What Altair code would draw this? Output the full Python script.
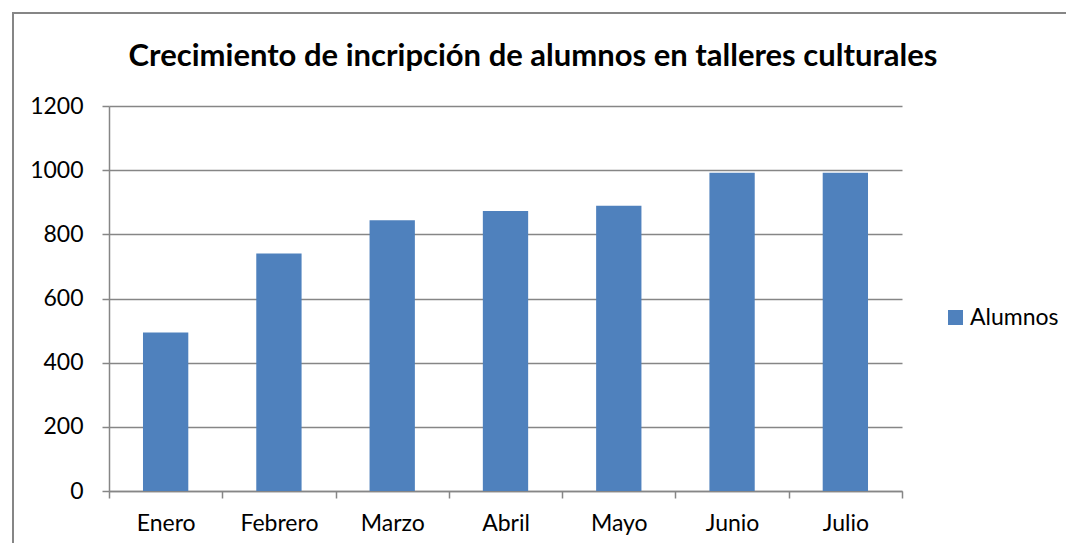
import altair as alt
import pandas as pd

months = ["Enero", "Febrero", "Marzo", "Abril", "Mayo", "Junio", "Julio"]
alumnos = [494, 740, 844, 873, 889, 992, 992]
series_name = "Alumnos"
title_text = "Crecimiento de incripción  de alumnos en talleres culturales"
y_ticks = [0, 200, 400, 600, 800, 1000, 1200]

df = pd.DataFrame({"Mes": months, "Valor": alumnos, "Serie": [series_name] * len(months)})

FONT = "Lato"
GRAY = "#868686"
BLUE = "#4F81BD"
LBL = 23

W, H = 793, 385

bars = alt.Chart(df).mark_bar(width={"band": 0.4}, color=BLUE).encode(
    x=alt.X("Mes:N", sort=months, title=None,
            scale=alt.Scale(paddingInner=0, paddingOuter=0),
            axis=alt.Axis(tickBand="extent", labelAngle=0, grid=False,
                          domainColor=GRAY, domainWidth=1.5, tickColor=GRAY, tickWidth=1.5,
                          tickSize=7, labelPadding=14, labelFont=FONT, labelFontSize=LBL,
                          labelColor="#000000")),
    y=alt.Y("Valor:Q", title=None,
            scale=alt.Scale(domain=[0, 1200], nice=False),
            axis=alt.Axis(values=y_ticks, format="d", grid=True, gridColor=GRAY, gridWidth=1.5,
                          domainColor=GRAY, domainWidth=1.5, tickColor=GRAY, tickWidth=1.5,
                          tickSize=7, labelPadding=19, labelFont=FONT, labelFontSize=LBL,
                          labelColor="#000000")),
    color=alt.Color("Serie:N", scale=alt.Scale(range=[BLUE]),
                    legend=alt.Legend(title=None, orient="none", legendX=835, legendY=200,
                                      symbolType="square", symbolSize=225,
                                      symbolStrokeWidth=0, labelFont=FONT,
                                      labelFontSize=LBL, labelColor="#000000",
                                      padding=0, labelOffset=3)),
)

one = pd.DataFrame({"k": [0]})

border = alt.Chart(one).mark_rect(filled=False, stroke=GRAY, strokeWidth=2, clip=False).encode(
    x=alt.value(-96), x2=alt.value(1100), y=alt.value(-93), y2=alt.value(600)
)

title = alt.Chart(one).mark_text(text=title_text, font=FONT, fontSize=31, fontWeight="bold",
                                 color="#000000", align="center", baseline="middle").encode(
    x=alt.value(424), y=alt.value(-49)
)

chart = alt.layer(border, bars, title).properties(
    width=W, height=H,
    autosize=alt.AutoSizeParams(type="none"),
    padding={"left": 101, "top": 98, "right": 164, "bottom": 52},
).configure_view(stroke=None)

chart.save("out.html", embed_options={"renderer": "svg", "actions": False})
